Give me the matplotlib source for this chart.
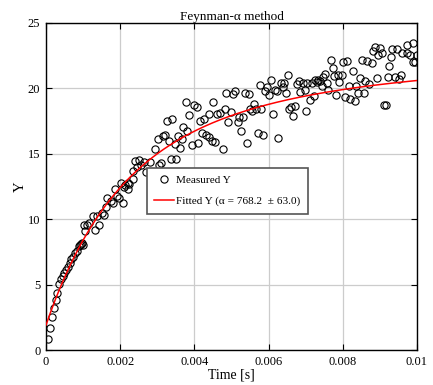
import numpy as np
import matplotlib
matplotlib.use('Agg')
import matplotlib.pyplot as plt
import matplotlib.ticker as ticker

plt.rcParams['font.family'] = ['Liberation Serif', 'DejaVu Serif']

# measured points: time in ms, Y
t_ms = [0.05, 0.11, 0.17, 0.21, 0.26, 0.30, 0.35, 0.40, 0.45, 0.49,
        0.54, 0.58, 0.64, 0.68, 0.74, 0.79, 0.84, 0.88, 0.92, 0.95,
        0.97, 0.99, 1.02, 1.04, 1.11, 1.17, 1.26, 1.32, 1.38, 1.44,
        1.50, 1.56, 1.62, 1.65, 1.76, 1.81, 1.85, 1.92, 1.97, 2.01,
        2.07, 2.10, 2.13, 2.21, 2.22, 2.25, 2.34, 2.35, 2.41, 2.44,
        2.51, 2.57, 2.64, 2.70, 2.80, 2.95, 3.02, 3.05, 3.11, 3.16,
        3.20, 3.25, 3.32, 3.36, 3.40, 3.48, 3.50, 3.57, 3.61, 3.66,
        3.70, 3.77, 3.79, 3.85, 3.93, 4.00, 4.06, 4.10, 4.15, 4.21,
        4.26, 4.31, 4.40, 4.40, 4.47, 4.51, 4.56, 4.62, 4.69, 4.76,
        4.82, 4.85, 4.91, 4.99, 5.05, 5.10, 5.17, 5.19, 5.26, 5.30,
        5.36, 5.41, 5.46, 5.50, 5.55, 5.61, 5.66, 5.71, 5.77, 5.79,
        5.86, 5.91, 5.97, 6.02, 6.07, 6.11, 6.16, 6.22, 6.25, 6.34,
        6.38, 6.42, 6.47, 6.52, 6.54, 6.60, 6.67, 6.72, 6.76, 6.83,
        6.86, 6.92, 6.97, 7.01, 7.03, 7.12, 7.16, 7.22, 7.24, 7.30,
        7.34, 7.39, 7.43, 7.46, 7.52, 7.57, 7.61, 7.67, 7.73, 7.76,
        7.82, 7.87, 7.91, 7.98, 8.01, 8.06, 8.11, 8.16, 8.19, 8.27,
        8.32, 8.36, 8.42, 8.46, 8.51, 8.56, 8.61, 8.66, 8.71, 8.78,
        8.81, 8.86, 8.91, 8.96, 9.00, 9.07, 9.11, 9.16, 9.22, 9.25,
        9.31, 9.34, 9.41, 9.45, 9.52, 9.56, 9.60, 9.72, 9.72, 9.81,
        9.88, 9.90, 9.96, 9.99]
y_meas = [0.81, 1.68, 2.55, 3.21, 3.82, 4.33, 5.05, 5.40, 5.66, 5.91,
          6.12, 6.32, 6.68, 6.93, 7.13, 7.39, 7.59, 7.95, 8.00, 8.10,
          8.15, 8.05, 9.56, 9.12, 9.56, 9.68, 10.24, 9.17, 10.24, 9.56,
          10.45, 10.32, 10.96, 11.62, 11.41, 11.21, 12.28, 11.77, 11.62, 12.79,
          11.26, 12.44, 12.59, 12.33, 12.79, 12.69, 13.71, 13.05, 14.43, 14.01,
          14.53, 14.12, 14.37, 13.61, 14.37, 15.34, 16.10, 14.12, 14.27, 16.36,
          16.41, 17.48, 15.95, 14.63, 17.69, 15.75, 14.63, 16.36, 15.44, 16.10,
          17.03, 18.96, 16.77, 17.99, 15.65, 18.75, 18.55, 15.85, 17.53, 16.62,
          17.69, 16.41, 16.26, 18.04, 16.00, 18.96, 15.90, 18.04, 18.10, 15.34,
          18.45, 19.62, 17.43, 18.20, 19.57, 19.83, 17.43, 17.79, 16.77, 17.84,
          19.62, 15.85, 19.57, 18.45, 18.30, 18.81, 18.45, 16.57, 20.23, 18.45,
          16.41, 19.77, 20.08, 19.52, 20.64, 18.04, 19.85, 19.77, 16.21, 20.44,
          20.08, 20.39, 19.62, 21.05, 18.45, 18.55, 17.89, 18.65, 20.34, 20.54,
          19.72, 20.44, 19.88, 18.30, 20.39, 19.11, 20.44, 19.42, 20.64, 20.52,
          20.64, 20.54, 20.18, 20.85, 21.10, 20.45, 19.88, 22.17, 21.56, 20.95,
          19.47, 21.02, 20.49, 21.02, 22.04, 19.32, 22.12, 20.18, 19.17, 21.35,
          19.06, 20.18, 19.62, 20.82, 22.17, 19.67, 20.59, 22.09, 20.34, 21.96,
          22.84, 23.19, 20.77, 22.55, 23.07, 22.73, 18.75, 18.71, 20.90, 21.71,
          22.37, 22.99, 20.90, 22.99, 20.74, 21.05, 22.68, 22.68, 23.34, 22.55,
          23.50, 22.00, 22.00, 22.55]

# fitted Feynman-alpha model parameters
alpha = 768.2
alpha_err = 63.0
y_offset = 1.9
y_amp = 21.5

t_meas = np.array(t_ms) * 1e-3
t_fit = np.linspace(1e-7, 0.01, 400)
y_fit = y_offset + y_amp * (1 - (1 - np.exp(-alpha * t_fit)) / (alpha * t_fit))

fig = plt.figure(figsize=(4.33, 3.85), dpi=100)
ax = fig.add_axes([0.1062, 0.0909, 0.8568, 0.8494])

ax.plot(t_meas, y_meas, 'o', mfc='none', mec='black', ms=5.2, mew=0.8,
        label='Measured Y', zorder=3)
ax.plot(t_fit, y_fit, color='red', lw=1.1,
        label='Fitted Y (\u03b1 = %.1f  \u00b1 %.1f)' % (alpha, alpha_err), zorder=4)

ax.set_xlim(0, 0.01)
ax.set_ylim(0, 25)
ax.xaxis.set_major_locator(ticker.MultipleLocator(0.002))
ax.yaxis.set_major_locator(ticker.MultipleLocator(5))
ax.xaxis.set_major_formatter(ticker.FuncFormatter(lambda v, p: '%g' % round(v, 6)))
ax.tick_params(direction='in', top=True, right=True, length=4, width=0.8,
               labelsize=9, pad=4)
ax.grid(True, color='#cccccc', lw=0.9)
ax.set_axisbelow(True)
for s in ax.spines.values():
    s.set_linewidth(1.0)

ax.set_title('Feynman-\u03b1 method', fontsize=9.5, pad=2)
ax.set_xlabel('Time [s]', fontsize=10, labelpad=1)
ax.set_ylabel('Y', fontsize=10.5, labelpad=1)

leg = ax.legend(loc='upper left', bbox_to_anchor=(0.272, 0.557), borderaxespad=0,
                fancybox=False, fontsize=8.1, labelspacing=1.0, handlelength=1.8,
                borderpad=0.65, handletextpad=0.15, framealpha=1)
leg.get_frame().set_edgecolor('#555555')
leg.get_frame().set_linewidth(1.2)

plt.savefig('out.png', dpi=100)
